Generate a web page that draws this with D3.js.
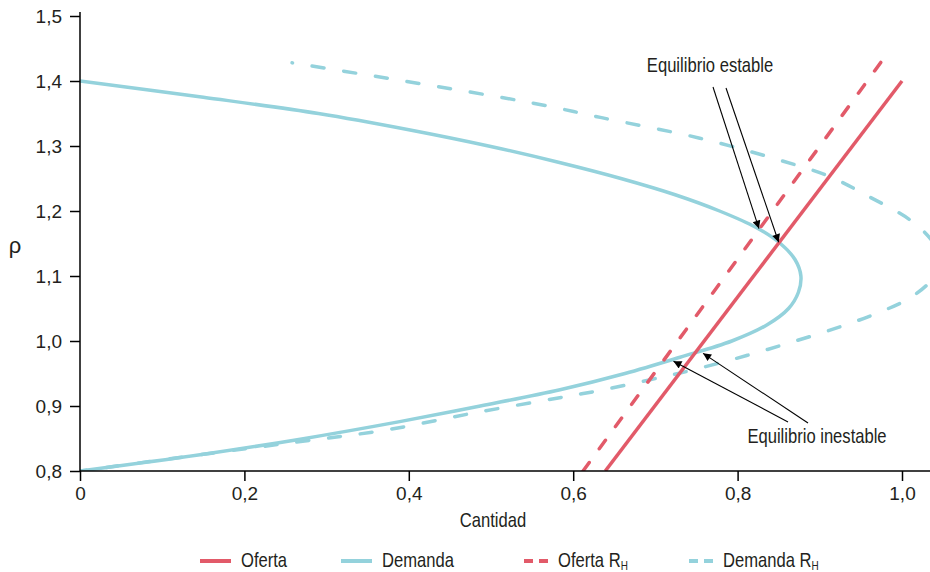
<!DOCTYPE html>
<html>
<head>
<meta charset="utf-8">
<title>Oferta y demanda</title>
<script src="https://cdn.jsdelivr.net/npm/d3@7"></script>
<style>
    body { margin: 0; background: #fff; }
    svg text { font-family: "Liberation Sans", Arial, sans-serif; fill: #231f20; }
</style>
</head>
<body>
<div id="chart"></div>
<script>
    // ticks
    var xTicks = [0, 0.2, 0.4, 0.6, 0.8, 1.0];
    var xTickLabels = ["0", "0,2", "0,4", "0,6", "0,8", "1,0"];
    var yTicks = [0.8, 0.9, 1.0, 1.1, 1.2, 1.3, 1.4, 1.5];
    var yTickLabels = ["0,8", "0,9", "1,0", "1,1", "1,2", "1,3", "1,4", "1,5"];

    // Demanda: precio (p) y cantidad (q)
    var demandaP = [0.800, 0.825, 0.849, 0.876, 0.900, 0.925, 0.950, 0.975, 1.000, 1.025, 1.050, 1.075, 1.100,
                    1.125, 1.150, 1.175, 1.200, 1.225, 1.250, 1.275, 1.300, 1.325, 1.350, 1.375, 1.400];
    var demandaQ = [0.000, 0.146, 0.268, 0.389, 0.487, 0.584, 0.663, 0.730, 0.793, 0.836, 0.862, 0.874, 0.877,
                    0.870, 0.852, 0.822, 0.778, 0.724, 0.658, 0.582, 0.497, 0.400, 0.290, 0.150, 0.000];

    // Demanda R_H (top end first, so the dash pattern starts where the curve starts)
    var demandaRhP = [1.428, 1.366, 1.344, 1.312, 1.278, 1.253, 1.222, 1.186, 1.155, 1.125, 1.094, 1.065, 1.043,
                      1.022, 0.996, 0.978, 0.955, 0.943, 0.924, 0.912, 0.889, 0.863, 0.845, 0.825, 0.800];
    var demandaRhQ = [0.258, 0.551, 0.633, 0.754, 0.852, 0.912, 0.960, 1.010, 1.036, 1.048, 1.036, 1.008, 0.970,
                      0.925, 0.860, 0.812, 0.744, 0.703, 0.633, 0.580, 0.478, 0.372, 0.266, 0.146, 0.000];

    // Oferta (lines)
    var ofertaP = [0.8, 1.4];
    var ofertaQ = [0.639, 1.0];
    var ofertaRhP = [0.8, 1.43];
    var ofertaRhQ = [0.612, 0.975];

    // equilibrium points the arrows point to
    var estableQ = [0.826, 0.850];
    var estableP = [1.173, 1.152];
    var inestableQ = [0.722, 0.758];
    var inestableP = [0.969, 0.981];

    var legendNames = ["Oferta", "Demanda", "Oferta R", "Demanda R"];

    var width = 930;
    var height = 572;
    var red = "#e25a69";
    var cyan = "#94d2dc";
    var squeeze = 0.83; // the original type is a condensed face

    var x = d3.scaleLinear().domain([0, 1]).range([80, 902]);
    var y = d3.scaleLinear().domain([0.8, 1.5]).range([471, 16]);

    var svg = d3.select("#chart").append("svg")
        .attr("width", width)
        .attr("height", height);

    svg.append("defs").append("clipPath").attr("id", "plot")
        .append("rect").attr("x", 80).attr("y", 0).attr("width", 850).attr("height", 471);

    var marker = svg.select("defs").append("marker")
        .attr("id", "arrow")
        .attr("viewBox", "0 0 10 10")
        .attr("refX", 10).attr("refY", 5)
        .attr("markerWidth", 11).attr("markerHeight", 8)
        .attr("markerUnits", "userSpaceOnUse")
        .attr("orient", "auto");
    marker.append("path").attr("d", "M0,0L10,5L0,10Z").attr("fill", "#000");

    function zip(ps, qs) {
        return ps.map(function(p, i) { return {p: p, q: qs[i]}; });
    }

    // narrow text: placed with translate, squeezed horizontally
    function label(parent, px, py, anchor, size, str) {
        return parent.append("text")
            .attr("transform", "translate(" + px + "," + py + ") scale(" + squeeze + ",1)")
            .attr("text-anchor", anchor)
            .attr("font-size", size)
            .text(str);
    }

    var line = d3.line()
        .x(function(d) { return x(d.q); })
        .y(function(d) { return y(d.p); })
        .curve(d3.curveCatmullRom.alpha(0.5));

    var plot = svg.append("g").attr("clip-path", "url(#plot)");

    var series = [
        {data: zip(demandaRhP, demandaRhQ), color: cyan, dash: "12,20", offset: 11.5},
        {data: zip(demandaP, demandaQ), color: cyan, dash: null, offset: 0},
        {data: zip(ofertaRhP, ofertaRhQ), color: red, dash: "10.5,17", offset: 0},
        {data: zip(ofertaP, ofertaQ), color: red, dash: null, offset: 0}
    ];

    plot.selectAll("path.serie").data(series).enter()
        .append("path")
        .attr("class", "serie")
        .attr("d", function(d) { return line(d.data); })
        .attr("fill", "none")
        .attr("stroke", function(d) { return d.color; })
        .attr("stroke-width", 3.5)
        .attr("stroke-linecap", function(d) { return d.dash ? "round" : "butt"; })
        .attr("stroke-dasharray", function(d) { return d.dash; })
        .attr("stroke-dashoffset", function(d) { return d.offset; });

    // axes
    var xAxis = svg.append("g")
        .attr("transform", "translate(0,471)")
        .call(d3.axisBottom(x).tickValues(xTicks)
            .tickFormat(function(d, i) { return xTickLabels[i]; })
            .tickSize(10).tickSizeOuter(0).tickPadding(6));
    xAxis.select(".domain").remove();
    xAxis.append("line").attr("x1", 80).attr("x2", 930).attr("stroke", "#000").attr("stroke-width", 1.5);

    var yAxis = svg.append("g")
        .attr("transform", "translate(80,0)")
        .call(d3.axisLeft(y).tickValues(yTicks)
            .tickFormat(function(d, i) { return yTickLabels[i]; })
            .tickSize(10).tickSizeOuter(0).tickPadding(8));
    yAxis.select(".domain").remove();
    yAxis.append("line").attr("y1", 12).attr("y2", 471).attr("stroke", "#000").attr("stroke-width", 1.5);

    svg.selectAll(".tick line").attr("stroke", "#000").attr("stroke-width", 1.5);
    svg.selectAll(".tick text").attr("font-size", 19).attr("fill", "#231f20");
    xAxis.attr("font-family", null);
    yAxis.attr("font-family", null);

    label(svg, 493, 527, "middle", 20, "Cantidad");
    svg.append("text").attr("x", 15).attr("y", 253).attr("text-anchor", "middle")
        .attr("font-size", 22).text("ρ");

    // annotations
    label(svg, 710, 72, "middle", 20, "Equilibrio estable");
    var estStart = [[713, 87], [726, 88]];
    svg.selectAll("line.est").data(estableQ).enter().append("line")
        .attr("x1", function(d, i) { return estStart[i][0]; })
        .attr("y1", function(d, i) { return estStart[i][1]; })
        .attr("x2", function(d) { return x(d); })
        .attr("y2", function(d, i) { return y(estableP[i]); })
        .attr("stroke", "#000").attr("stroke-width", 1.1)
        .attr("marker-end", "url(#arrow)");

    label(svg, 817, 443, "middle", 20, "Equilibrio inestable");
    var inStart = [[788, 422], [808, 423]];
    svg.selectAll("line.ines").data(inestableQ).enter().append("line")
        .attr("x1", function(d, i) { return inStart[i][0]; })
        .attr("y1", function(d, i) { return inStart[i][1]; })
        .attr("x2", function(d) { return x(d); })
        .attr("y2", function(d, i) { return y(inestableP[i]); })
        .attr("stroke", "#000").attr("stroke-width", 1.1)
        .attr("marker-end", "url(#arrow)");

    // legend
    var legendX = [200, 341, 524, 689];
    var legendStyle = [
        {color: red, dash: null}, {color: cyan, dash: null},
        {color: red, dash: "9,6"}, {color: cyan, dash: "9,6"}
    ];
    legendNames.forEach(function(name, i) {
        var g = svg.append("g").attr("transform", "translate(" + legendX[i] + ",561)");
        var st = legendStyle[i];
        g.append("line").attr("x1", 0).attr("x2", st.dash ? 24 : 31)
            .attr("stroke", st.color)
            .attr("stroke-width", 4)
            .attr("stroke-dasharray", st.dash);
        var t = label(g, st.dash ? 34 : 41, 6, "start", 20, name);
        if (i >= 2) {
            t.append("tspan").attr("font-size", 12).attr("dy", 3).text("H");
        }
    });
</script>
</body>
</html>
